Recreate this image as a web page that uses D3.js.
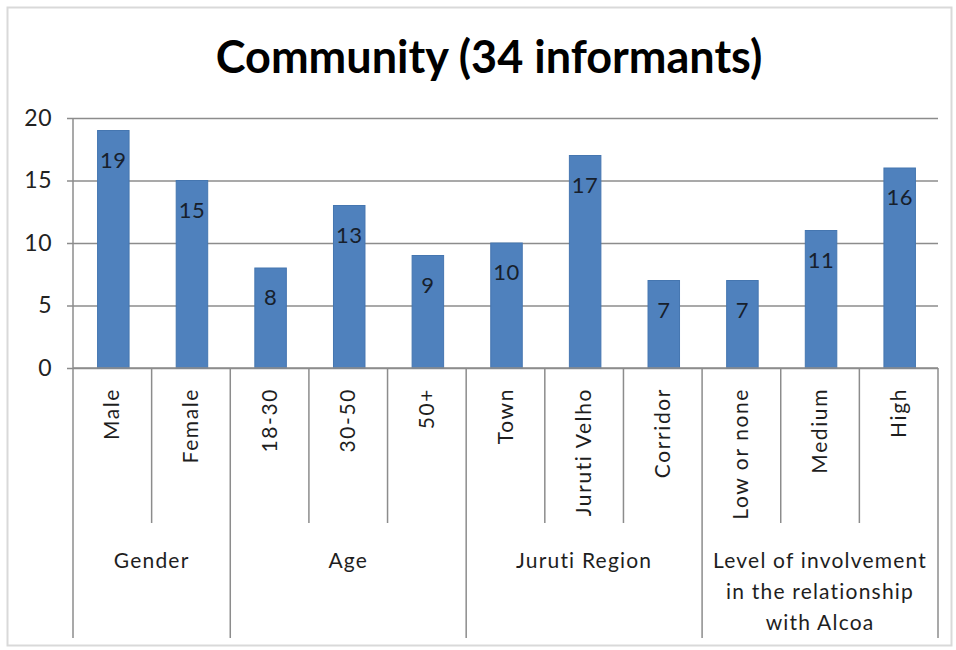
<!DOCTYPE html>
<html>
<head>
<meta charset="utf-8">
<script src="https://cdn.jsdelivr.net/npm/d3@7"></script>
<style>
  body { margin: 0; background: #fff; }
  text { font-family: Lato, "Open Sans", sans-serif; }
</style>
</head>
<body>
<div id="chart"></div>
<script>
// chart data
const categories = ["Male", "Female", "18-30", "30-50", "50+", "Town", "Juruti Velho", "Corridor", "Low or none", "Medium", "High"];
const values = [19, 15, 8, 13, 9, 10, 17, 7, 7, 11, 16];
const groupNames = [["Gender"], ["Age"], ["Juruti Region"], ["Level of involvement", "in the relationship", "with Alcoa"]];
const groupSizes = [2, 3, 3, 3];
const yTicks = [0, 5, 10, 15, 20];

const W = 956, H = 650;
const plot = {left: 73, right: 938, top: 118, bottom: 368};

const svg = d3.select("#chart").append("svg")
    .attr("width", W)
    .attr("height", H);

// outer frame
svg.append("rect")
    .attr("x", 7.5).attr("y", 7.5)
    .attr("width", W - 12).attr("height", H - 12)
    .attr("fill", "none")
    .attr("stroke", "#d9d9d9")
    .attr("stroke-width", 2);

svg.append("text")
    .attr("x", 489)
    .attr("y", 73)
    .attr("text-anchor", "middle")
    .style("font-size", "45px")
    .style("font-weight", "bold")
    .attr("fill", "#000")
    .text("Community (34 informants)");

var x = d3.scaleBand()
    .domain(categories)
    .range([plot.left, plot.right]);

var y = d3.scaleLinear()
    .domain([0, 20])
    .range([plot.bottom, plot.top]);

// gridlines + y axis
svg.append("g")
    .attr("transform", `translate(${plot.left},0)`)
    .call(d3.axisLeft(y).tickValues(yTicks).tickSize(-(plot.right - plot.left)).tickSizeOuter(0).tickPadding(21))
    .call(g => g.select(".domain").remove())
    .call(g => g.selectAll(".tick line")
        .attr("x1", -6)
        .attr("stroke", "#8c8c8c")
        .attr("stroke-width", 1.5))
    .call(g => g.selectAll(".tick text")
        .attr("fill", "#222")
        .style("font-size", "23px")
        .style("letter-spacing", "0.5px")
        .style("font-family", "Lato, sans-serif"));

// vertical axis line
svg.append("line")
    .attr("x1", plot.left).attr("x2", plot.left)
    .attr("y1", plot.top).attr("y2", plot.bottom)
    .attr("stroke", "#8c8c8c").attr("stroke-width", 1.5);

// bars
var barW = 31.5;
svg.selectAll(".bar")
    .data(values)
    .enter()
    .append("rect")
    .attr("class", "bar")
    .attr("x", (d, i) => x(categories[i]) + x.bandwidth() / 2 - barW / 2 + 1)
    .attr("y", d => y(d))
    .attr("width", barW)
    .attr("height", d => y(0) - y(d))
    .attr("fill", "#4f81bd")
    .attr("stroke", "#4576b0")
    .attr("stroke-width", 1);

// value labels
svg.selectAll(".val")
    .data(values)
    .enter()
    .append("text")
    .attr("class", "val")
    .attr("x", (d, i) => x(categories[i]) + x.bandwidth() / 2 + 1)
    .attr("y", d => y(d) + 37)
    .attr("text-anchor", "middle")
    .attr("fill", "#17202c")
    .style("font-size", "22px")
    .style("letter-spacing", "0.5px")
    .text(d => d);

// category axis
var bottomY = 638, innerY = 523;
var boundaries = [];
var idx = 0;
groupSizes.forEach(function(n, gi) {
    for (let k = 0; k < n; k++) {
        boundaries.push({pos: x(categories[idx]), major: k == 0});
        idx++;
    }
});
boundaries.push({pos: plot.right, major: true});

svg.append("line")
    .attr("x1", plot.left).attr("x2", plot.right)
    .attr("y1", plot.bottom).attr("y2", plot.bottom)
    .attr("stroke", "#8c8c8c").attr("stroke-width", 1.5);

svg.selectAll(".sep")
    .data(boundaries)
    .enter()
    .append("line")
    .attr("class", "sep")
    .attr("x1", d => d.pos).attr("x2", d => d.pos)
    .attr("y1", plot.bottom)
    .attr("y2", d => d.major ? bottomY : innerY)
    .attr("stroke", "#8c8c8c").attr("stroke-width", 1.5);

// rotated category labels
svg.selectAll(".cat")
    .data(categories)
    .enter()
    .append("text")
    .attr("class", "cat")
    .attr("transform", d => `translate(${x(d) + x.bandwidth() / 2 + 7}, 388) rotate(-90)`)
    .attr("text-anchor", "end")
    .attr("fill", "#1e1e1e")
    .style("font-size", "21px")
    .style("letter-spacing", "1.6px")
    .text(d => d);

// group labels
var start = 0;
groupSizes.forEach(function(n, gi) {
    var x0 = x(categories[start]);
    var x1 = start + n < categories.length ? x(categories[start + n]) : plot.right;
    var t = svg.append("text")
        .attr("x", (x0 + x1) / 2)
        .attr("y", 568)
        .attr("text-anchor", "middle")
        .attr("fill", "#1e1e1e")
        .style("font-size", "21px")
        .style("letter-spacing", "1.2px");
    groupNames[gi].forEach(function(line, li) {
        t.append("tspan")
            .attr("x", (x0 + x1) / 2)
            .attr("dy", li == 0 ? 0 : 31)
            .text(line);
    });
    start += n;
});
</script>
</body>
</html>
